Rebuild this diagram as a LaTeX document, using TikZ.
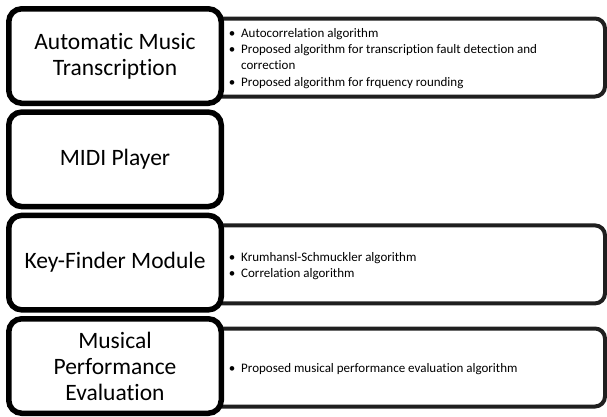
\documentclass[tikz,border=0pt]{standalone}
\usepackage{fontspec}
\setmainfont{Carlito}[Ligatures={NoCommon}]
\begin{document}
\begin{tikzpicture}[x=1pt,y=-1pt,
  leftbox/.style={draw=black, line width=5.5pt, rounded corners=13pt, fill=white,
    minimum width=212.5pt, minimum height=94.5pt, inner sep=0pt},
  rightbox/.style={draw=black!88, line width=4pt, rounded corners=10pt, fill=white,
    minimum width=405pt, minimum height=78pt, inner sep=0pt},
  bigtext/.style={font=\fontsize{23.5}{26}\selectfont, align=center, inner sep=0pt},
  smalltext/.style={font=\fontsize{13}{16}\selectfont, anchor=base west, inner sep=0pt},
  bul/.style={font=\fontsize{13}{16}\selectfont, anchor=base, inner sep=0pt}]
\useasboundingbox (0,0) rectangle (607,416);
% right boxes (behind)
\node[rightbox] (r1) at (402.5,57.5) {};
\node[rightbox] (r3) at (402.5,264.4) {};
\node[rightbox] (r4) at (402.5,367.5) {};
% left boxes
\node[leftbox] (l1) at (115,56) {};
\node[leftbox] (l2) at (115,159.3) {};
\node[leftbox] (l3) at (115,262.6) {};
\node[leftbox] (l4) at (115,366) {};
% left texts
\node[bigtext] (t1) at (l1.center) {Automatic Music\\Transcription};
\node[bigtext] (t2) at (l2.center) {MIDI Player};
\node[bigtext] (t3) at (l3.center) {Key-Finder Module};
\node[bigtext] (t4) at (l4.center) {Musical\\Performance\\Evaluation};
% right texts
\node[bul] (b11) at (232,37.5) {•};
\node[smalltext] (s11) at (241,37.5) {Autocorrelation algorithm};
\node[bul] (b12) at (232,53.5) {•};
\node[smalltext] (s12) at (241,53.5) {Proposed algorithm for transcription fault detection and};
\node[smalltext] (s12b) at (241,69.5) {correction};
\node[bul] (b13) at (232,86.5) {•};
\node[smalltext] (s13) at (241,86.5) {Proposed algorithm for frquency rounding};
\node[bul] (b31) at (232,261) {•};
\node[smalltext] (s31) at (241,261) {Krumhansl-Schmuckler algorithm};
\node[bul] (b32) at (232,277) {•};
\node[smalltext] (s32) at (241,277) {Correlation algorithm};
\node[bul] (b41) at (232,372) {•};
\node[smalltext] (s41) at (241,372) {Proposed musical performance evaluation algorithm};
\end{tikzpicture}
\end{document}
